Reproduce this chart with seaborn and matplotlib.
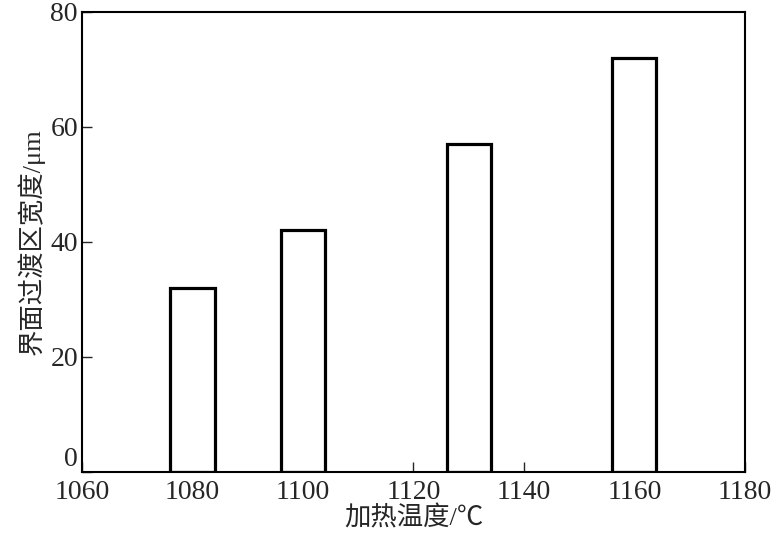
import matplotlib
matplotlib.use("Agg")
import matplotlib.pyplot as plt
import seaborn as sns

# heating temperature (deg C) and interface transition zone width (um)
temps = [1080, 1100, 1130, 1160]
widths = [32, 42, 57, 72]
xticks = [1060, 1080, 1100, 1120, 1140, 1160, 1180]
yticks = [0, 20, 40, 60, 80]

sns.set_style("white")
fam = ["Liberation Serif", "Noto Sans CJK SC"]
plt.rcParams["font.family"] = fam

fig = plt.figure(figsize=(7.75, 5.4), dpi=100)
ax = fig.add_axes([0.106, 0.126, 0.855, 0.852])
sns.barplot(x=temps, y=widths, native_scale=True, width=0.4,
            color="white", edgecolor="black", linewidth=2.3, ax=ax)

ax.set_xlim(1060, 1180)
ax.set_ylim(0, 80)
ax.set_xticks(xticks)
ax.set_yticks(yticks)
ax.tick_params(direction="in", labelsize=20, width=1, length=7,
               top=False, right=False, bottom=True, left=True)
ax.tick_params(axis="x", pad=6)
ax.tick_params(axis="y", pad=3)
# the zero label sits just above the x axis, as in the original
ax.get_yticklabels()[0].set_verticalalignment("bottom")
for s in ax.spines.values():
    s.set_linewidth(1.5)
    s.set_color("black")
ax.set_xlabel("加热温度/℃", fontsize=19, labelpad=0)
ax.set_ylabel("界面过渡区宽度/μm", fontsize=19, labelpad=4)
fig.savefig("out.png", dpi=100)
